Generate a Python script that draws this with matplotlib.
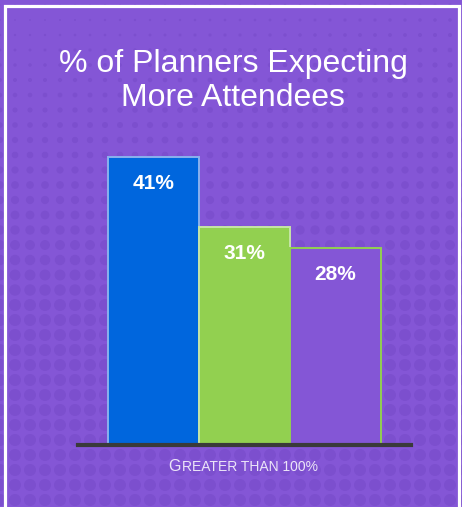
import numpy as np
import matplotlib
matplotlib.use('Agg')
import matplotlib.pyplot as plt

plt.rcParams['font.family'] = ['Liberation Sans', 'DejaVu Sans']

# Survey result: share of planners expecting more attendees
categories = ['Greater than 100%']
series = ['A', 'B', 'C']
values = [41, 31, 28]
labels = ['41%', '31%', '28%']

bg = '#8456d6'
dot = '#7c4fce'
face = ['#0066dd', '#92d050', bg]
edge = ['#8ab2ee', '#c6e5a6', '#92d050']

W, H = 462, 507
fig = plt.figure(figsize=(W / 100, H / 100), dpi=100)
fig.patch.set_facecolor(bg)

# background layer in pixel coordinates: halftone dots and white frame
bga = fig.add_axes([0, 0, 1, 1], zorder=0)
bga.set_xlim(0, W)
bga.set_ylim(H, 0)
bga.axis('off')
gx, gy = np.meshgrid(np.arange(0, W + 15, 15), np.arange(5, H + 15, 15))
diam = np.clip(1.0 + 0.036 * gy + 0.004 * gx * (gy < 150), 0, 12)
bga.scatter(gx.ravel(), gy.ravel(), s=(diam.ravel() * 0.72) ** 2,
            color=dot, linewidths=0)
bga.plot([4.5, 4.5, 458.5, 458.5], [H + 5, 5.5, 5.5, H + 5],
         color='white', lw=2.3, solid_joinstyle='miter')

# bar chart
ax = fig.add_axes([78 / W, 62 / H, 333 / W, 351 / H], zorder=1)
ax.set_facecolor('none')
x = np.arange(len(values))
ax.bar(x, values, width=1.0, color=face, edgecolor=edge, linewidth=1.4,
       zorder=2)
for xi, v, t in zip(x, values, labels):
    ax.text(xi, v - 3.7, t, ha='center', va='center', color='white',
            fontsize=15, fontweight='bold', zorder=3)
ax.set_xlim(-0.83, 2.83)
ax.set_ylim(0, 50)
ax.axhline(0, color='#3a3a3a', lw=3, zorder=4, clip_on=False)
for s in ax.spines.values():
    s.set_visible(False)
ax.set_xticks([])
ax.set_yticks([])

# title
fig.text(233 / W, 1 - 81 / H, '% of Planners Expecting\nMore Attendees',
         ha='center', va='center', color='white', fontsize=23,
         linespacing=1.15)

# category label in small caps
cat = categories[0].upper()
fig.text(181 / W, 1 - 471 / H, cat[0], ha='right', va='baseline',
         color='#ece5f8', fontsize=11.5)
fig.text(182 / W, 1 - 471 / H, cat[1:], ha='left', va='baseline',
         color='#ece5f8', fontsize=10)

fig.savefig('out.png', dpi=100, facecolor=bg)
